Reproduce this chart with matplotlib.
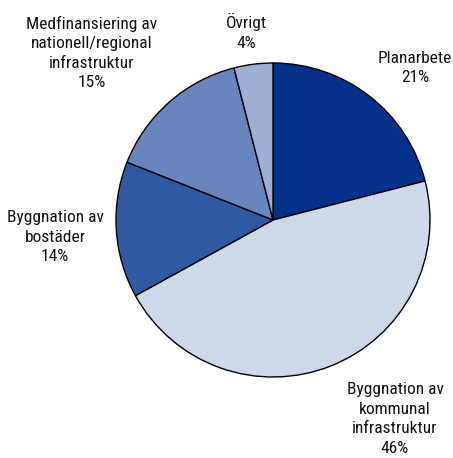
import matplotlib.pyplot as plt

names = ['Planarbete', 'Byggnation av\nkommunal\ninfrastruktur', 'Byggnation av\nbostäder',
         'Medfinansiering av\nnationell/regional\ninfrastruktur', 'Övrigt']
shares = [21, 46, 14, 15, 4]
colors = ['#05318a', '#cfd8e8', '#2f5aa1', '#6885bd', '#9cb0d6']

# label anchor points (pixels from top-left)
label_pos = [(415, 68), (395, 419), (55, 237), (92, 53), (246, 32)]

plt.rcParams['font.family'] = ['Roboto Condensed', 'DejaVu Sans']

W, H = 453, 458
fig = plt.figure(figsize=(W / 100, H / 100), dpi=100)
ax = fig.add_axes([0, 0, 1, 1])

ax.pie(shares, colors=colors, startangle=90, counterclock=False,
       center=(273, H - 220), radius=157,
       wedgeprops=dict(edgecolor='black', linewidth=1.0))

ax.set_xlim(0, W)
ax.set_ylim(0, H)
ax.set_aspect('equal')
ax.axis('off')

for name, s, (x, y) in zip(names, shares, label_pos):
    ax.text(x, H - y, f'{name}\n{s}%', ha='center', va='center', fontsize=12.5,
            linespacing=1.38, color='#111111')

fig.savefig('out.png', dpi=100)
